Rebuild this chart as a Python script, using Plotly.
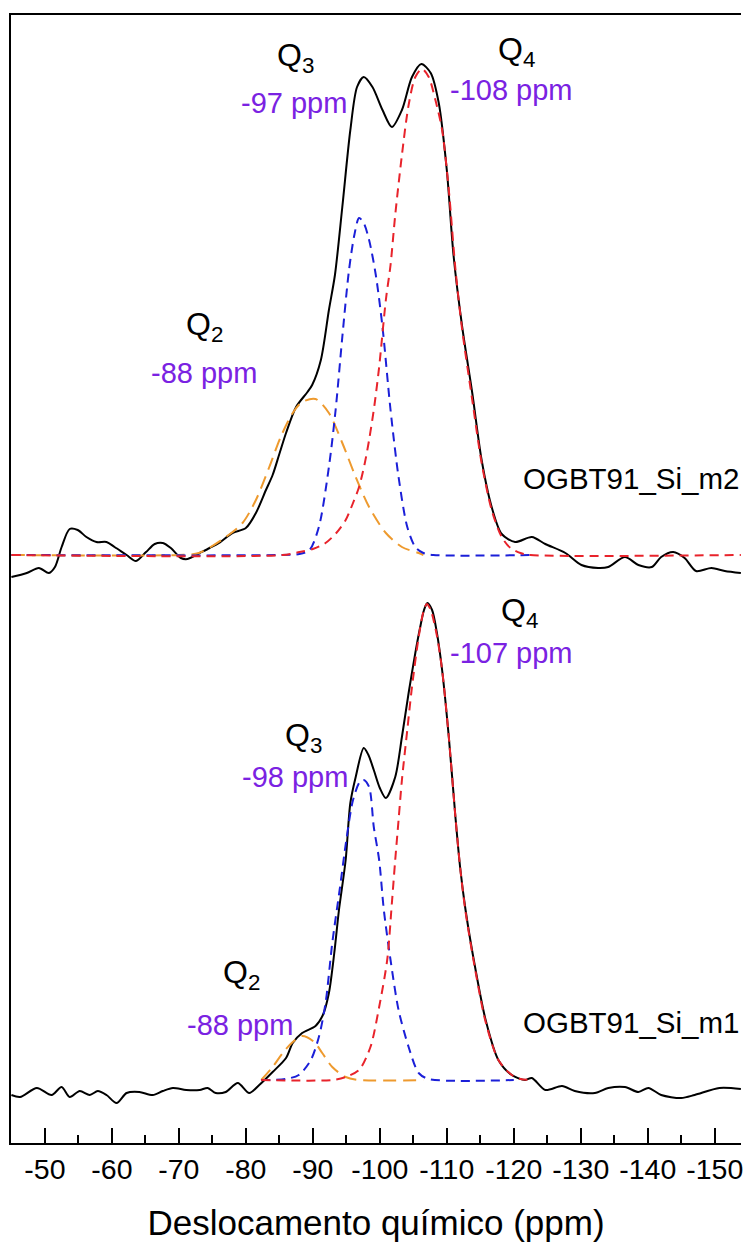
import plotly.graph_objects as go

# ---- 29Si MAS NMR spectra (intensity in arbitrary units) ----
# Sample m2 (upper trace), experimental spectrum
m2_ppm = [-45.0, -47.3, -49.1, -50.6, -51.5, -52.5, -53.7, -54.9, -56.2, -57.7, -59.2, -60.4,
          -62.2, -63.6, -65.1, -66.4, -67.6, -68.8, -70.3, -71.3, -73.1, -74.6, -76.0, -78.0,
          -80.0, -81.5, -83.0, -84.0, -85.0, -86.0, -87.5, -89.2, -89.9, -91.2, -92.4, -93.3,
          -94.4, -95.6, -96.6, -97.6, -98.9, -100.4, -101.8, -103.3, -104.8, -106.2, -107.6,
          -108.8, -110.0, -111.0, -112.3, -113.8, -115.2, -116.7, -118.2, -120.2, -122.7,
          -124.7, -127.7, -130.1, -132.6, -134.1, -136.6, -138.6, -140.6, -142.0, -143.8,
          -145.5, -147.2, -149.5, -151.5, -153.9]
m2_int = [-22, -18, -13, -18, -12, 8, 26, 25, 18, 13, 13, 8,
          0, -6, 3, 11, 12, 7, -3, -4, 2, 7, 12, 22,
          27, 42, 65, 80, 101, 122, 148, 163, 170, 195, 245, 280,
          348, 425, 468, 478, 468, 445, 428, 445, 478, 491, 482,
          452, 385, 300, 228, 162, 95, 48, 21, 13, 18,
          11, 2, -10, -13, -12, -2, -10, -12, -2, 3,
          -3, -16, -13, -16, -18]

# Sample m2, fitted components
m2_q2_ppm = [-45.0, -70.0, -73.0, -77.0, -79.5, -81.5, -83.5, -85.2, -87.0, -88.4, -90.4, -92.4,
             -94.4, -96.4, -98.4, -100.9, -103.3, -105.8, -106.5]
m2_q2_int = [0, 0, 2, 18, 32, 55, 88, 118, 142, 153, 156, 142,
             112, 78, 48, 22, 8, 2, 0]

m2_q3_ppm = [-45.0, -85.0, -88.0, -89.5, -90.9, -92.4, -93.4, -94.4, -95.4, -96.2, -96.9, -97.6,
             -98.4, -99.4, -100.4, -101.6, -102.8, -104.1, -105.3, -106.5, -108.0, -123.2]
m2_q3_int = [0, 0, 1, 5, 28, 88, 145, 218, 285, 320, 337, 332,
             315, 280, 228, 145, 78, 28, 8, 2, 0, 0]

m2_q4_ppm = [-45.0, -85.5, -88.0, -90.0, -91.9, -93.5, -94.9, -96.0, -96.9, -97.7, -98.4, -99.2,
             -99.9, -100.9, -101.6, -102.3, -103.3, -104.3, -105.3, -106.3, -107.3, -108.3,
             -109.3, -110.3, -111.3, -112.3, -113.8, -115.2, -116.7, -118.2, -119.5, -121.0,
             -122.5, -153.9]
m2_q4_int = [0, 0, 3, 6, 12, 22, 35, 52, 68, 90, 115, 150,
             188, 255, 290, 340, 400, 450, 478, 486, 478, 455,
             425, 365, 285, 225, 155, 92, 45, 18, 7, 2,
             0, 0]

# Sample m1 (lower trace), experimental spectrum
m1_ppm = [-45.0, -46.3, -48.8, -51.0, -52.5, -53.7, -55.2, -56.7, -57.9, -59.2, -60.7, -62.2,
          -64.1, -66.1, -67.6, -69.1, -71.1, -73.1, -74.3, -75.5, -77.0, -78.8, -80.5, -82.0,
          -84.0, -86.0, -87.0, -88.4, -90.4, -91.5, -92.4, -93.2, -93.9, -94.9, -95.6, -96.4,
          -97.6, -98.3, -99.1, -100.0, -100.9, -102.3, -103.3, -104.3, -105.3, -106.0, -106.6,
          -107.1, -107.8, -108.5, -109.3, -110.3, -111.3, -112.0, -112.8, -114.3, -115.8,
          -117.7, -119.7, -121.7, -122.7, -124.7, -127.2, -129.1, -132.1, -134.1, -136.6,
          -138.6, -140.1, -142.0, -145.0, -147.0, -150.7, -153.9]
m1_int = [-15, -17, -8, -15, -7, -17, -11, -15, -11, -15, -23, -13,
          -12, -15, -11, -8, -10, -10, -8, -13, -12, -3, -13, -5,
          8, 22, 37, 47, 54, 65, 87, 127, 170, 220, 277, 303,
          332, 325, 310, 292, 282, 303, 343, 387, 427, 452, 470,
          477, 470, 448, 410, 343, 262, 212, 170, 110, 60,
          20, 5, 0, 2, -10, -6, -11, -13, -8, -7,
          -12, -8, -15, -18, -15, -8, -9]

# Sample m1, fitted components
m1_q2_ppm = [-82.3, -84.0, -85.5, -87.0, -88.4, -90.2, -91.4, -92.9, -94.9, -96.9, -106.5]
m1_q2_int = [0, 13, 27, 38, 44, 38, 27, 13, 3, 0, 0]

m1_q3_ppm = [-82.3, -85.9, -87.9, -89.7, -90.9, -91.9, -92.9, -94.0, -95.0, -96.0, -97.0, -97.6,
             -98.4, -99.1, -99.9, -100.6, -101.6, -102.8, -104.3, -105.8, -107.3, -120.0]
m1_q3_int = [0, 1, 5, 20, 43, 77, 137, 190, 240, 280, 298, 300,
             293, 253, 220, 170, 120, 70, 33, 7, 1, 0]

m1_q4_ppm = [-82.3, -92.9, -94.9, -96.9, -98.6, -99.9, -101.1, -101.8, -102.3, -102.8, -103.3,
             -104.1, -104.8, -105.8, -106.5, -107.0, -107.6, -108.5, -109.3, -110.3, -111.3,
             -112.0, -112.8, -114.3, -115.8, -117.7, -119.7, -121.0, -122.7]
m1_q4_int = [0, 0, 3, 10, 33, 73, 120, 177, 220, 260, 300,
             350, 393, 443, 468, 476, 470, 445, 410, 343, 262,
             212, 168, 108, 58, 20, 5, 1, 0]

# vertical offset of the upper trace
m2_offset = 525

# axis ticks
tick_values = [-50, -60, -70, -80, -90, -100, -110, -120, -130, -140, -150]
tick_labels = ["-50", "-60", "-70", "-80", "-90", "-100", "-110", "-120", "-130", "-140", "-150"]
minor_tick_values = [-55, -65, -75, -85, -95, -105, -115, -125, -135, -145]

FONT = "Liberation Sans, Arial, sans-serif"
BLACK = "#000000"
ORANGE = "#EE9A2E"
BLUE = "#1B1FD8"
RED = "#E8232B"
PURPLE = "#7A22E2"

fig = go.Figure()


def add_spectrum(ppm, inten, q2, q3, q4, offset):
    fig.add_trace(go.Scatter(x=ppm, y=[v + offset for v in inten], mode="lines",
                             line=dict(color=BLACK, width=2, shape="spline", smoothing=0.8),
                             hoverinfo="skip"))
    for (px, py), color, dash in ((q2, ORANGE, "13px,7px"),
                                  (q3, BLUE, "9px,6px"),
                                  (q4, RED, "9px,6px")):
        fig.add_trace(go.Scatter(x=px, y=[v + offset for v in py], mode="lines",
                                 line=dict(color=color, width=2, dash=dash,
                                           shape="spline", smoothing=0.8),
                                 hoverinfo="skip"))


add_spectrum(m2_ppm, m2_int, (m2_q2_ppm, m2_q2_int), (m2_q3_ppm, m2_q3_int),
             (m2_q4_ppm, m2_q4_int), m2_offset)
add_spectrum(m1_ppm, m1_int, (m1_q2_ppm, m1_q2_int), (m1_q3_ppm, m1_q3_int),
             (m1_q4_ppm, m1_q4_int), 0)


def label(x, y, text, color=BLACK, size=29, xanchor="center"):
    fig.add_annotation(x=x, y=y, text=text, showarrow=False, xanchor=xanchor, yanchor="middle",
                       font=dict(family=FONT, size=size, color=color))


# upper trace labels
label(-87.4, 1023, "Q<sub>3</sub>", size=32)
label(-87.2, 977, "-97 ppm", PURPLE)
label(-120.4, 1029, "Q<sub>4</sub>", size=32)
label(-119.6, 990, "-108 ppm", PURPLE)
label(-73.9, 754, "Q<sub>2</sub>", size=32)
label(-73.8, 707, "-88 ppm", PURPLE)
label(-121.1, 602, "OGBT91_Si_m2", xanchor="left", size=29.5)

# lower trace labels
label(-120.9, 468, "Q<sub>4</sub>", size=32)
label(-119.7, 427, "-107 ppm", PURPLE)
label(-88.6, 343, "Q<sub>3</sub>", size=32)
label(-87.4, 303, "-98 ppm", PURPLE)
label(-79.3, 106, "Q<sub>2</sub>", size=32)
label(-79.2, 55, "-88 ppm", PURPLE)
label(-121.1, 58, "OGBT91_Si_m1", xanchor="left", size=29.5)

fig.update_layout(
    width=743, height=1242,
    margin=dict(l=11, r=0, t=15, b=99),
    paper_bgcolor="white", plot_bgcolor="white",
    showlegend=False,
    font=dict(family=FONT, color=BLACK),
    xaxis=dict(
        range=[-44.94, -153.92],
        showline=True, linecolor=BLACK, linewidth=2, mirror=True,
        showgrid=False, zeroline=False,
        tickmode="array", tickvals=tick_values, ticktext=tick_labels,
        ticks="inside", ticklen=15, tickwidth=2, tickcolor=BLACK,
        ticklabeloverflow="allow",
        minor=dict(tickmode="array", tickvals=minor_tick_values, ticks="inside",
                   ticklen=8, tickwidth=2, tickcolor=BLACK, showgrid=False),
        tickfont=dict(family=FONT, size=28.5, color=BLACK),
        title=dict(text="Deslocamento químico (ppm)", font=dict(family=FONT, size=35, color=BLACK),
                   standoff=26),
    ),
    yaxis=dict(
        range=[-63, 1065],
        showline=True, linecolor=BLACK, linewidth=2, mirror=False,
        showgrid=False, zeroline=False, showticklabels=False, ticks="",
    ),
)

fig.write_html("out.html")
